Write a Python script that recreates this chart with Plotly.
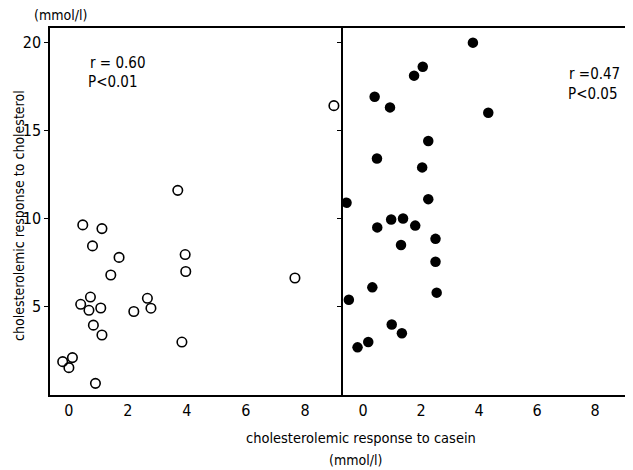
import plotly.graph_objects as go

# Left panel (open circles)
casein_left = [0.47, 1.12, 3.69, 8.98, 0.80, 1.70, 1.42, 3.94, 3.96, 7.66, 0.73, 0.40,
               0.68, 1.08, 2.20, 2.66, 2.78, 0.83, 1.12, 3.83, -0.21, 0.12, 0.00, 0.90]
chol_left = [9.64, 9.43, 11.6, 16.4, 8.45, 7.8, 6.8, 7.96, 7.0, 6.63, 5.55, 5.14,
             4.8, 4.93, 4.73, 5.48, 4.92, 3.96, 3.4, 3.0, 1.89, 2.12, 1.55, 0.66]

# Right panel (filled circles)
casein_right = [3.79, 2.06, 1.76, 0.40, 0.93, 4.32, 2.25, 0.48, 2.04, -0.57, 2.25, 0.49,
                0.97, 1.38, 1.80, 2.50, 1.31, 2.50, 0.32, -0.49, 2.54, 0.99, 1.34, 0.18, -0.19]
chol_right = [19.97, 18.6, 18.1, 16.9, 16.3, 16.0, 14.4, 13.4, 12.9, 10.9, 11.1, 9.5,
              9.95, 10.0, 9.6, 8.85, 8.5, 7.55, 6.1, 5.4, 5.8, 4.0, 3.5, 3.0, 2.7]

x_ticks = [0, 2, 4, 6, 8]
y_ticks = [5, 10, 15, 20]

FONT = "DejaVu Sans Condensed, Liberation Sans Narrow, sans-serif"

fig = go.Figure()
fig.add_trace(go.Scatter(
    x=casein_left, y=chol_left, mode="markers", xaxis="x", yaxis="y",
    marker=dict(symbol="circle-open", size=9.5, color="black", line=dict(width=1.6)),
    showlegend=False))
fig.add_trace(go.Scatter(
    x=casein_right, y=chol_right, mode="markers", xaxis="x2", yaxis="y2",
    marker=dict(symbol="circle", size=10.5, color="black"),
    showlegend=False))

def ax(**kw):
    d = dict(showline=True, linecolor="black", linewidth=1.5,
             showgrid=False, zeroline=False,
             tickfont=dict(size=16, color="black", family=FONT))
    d.update(kw)
    return d

fig.update_layout(
    width=633, height=470,
    margin=dict(l=42, r=13, t=20, b=83),
    paper_bgcolor="white", plot_bgcolor="white",
    font=dict(family=FONT, color="black", size=14),
    xaxis=ax(domain=[0, 0.507], range=[-0.64, 9.29], tickvals=x_ticks, ticks="",
             anchor="y", mirror=True),
    xaxis2=ax(domain=[0.507, 1], range=[-0.69, 9.14], tickvals=x_ticks, ticks="",
              anchor="y2", mirror=True),
    yaxis=ax(domain=[0, 1], range=[0, 20.8], tickvals=y_ticks, ticks="outside",
             ticklen=4, tickwidth=1.2, tickcolor="black", anchor="x", mirror=False),
    yaxis2=ax(domain=[0, 1], range=[0, 20.8], tickvals=y_ticks, ticks="outside",
              ticklen=4, tickwidth=1.2, tickcolor="black", showticklabels=False,
              anchor="x2", mirror=True),
)

ann = [
    dict(text="r = 0.60", x=0.64, y=18.8, xref="x", yref="y", xanchor="left", yanchor="middle", size=15),
    dict(text="P<0.01", x=0.58, y=17.75, xref="x", yref="y", xanchor="left", yanchor="middle", size=15),
    dict(text="r =0.47", x=7.03, y=18.2, xref="x2", yref="y2", xanchor="left", yanchor="middle", size=15),
    dict(text="P<0.05", x=7.0, y=17.05, xref="x2", yref="y2", xanchor="left", yanchor="middle", size=15),
    dict(text="(mmol/l)", x=0.019, y=1.035, xref="paper", yref="paper", xanchor="center", yanchor="middle", size=14),
    dict(text="cholesterolemic response to cholesterol", x=-0.054, y=0.49, xref="paper", yref="paper",
         xanchor="center", yanchor="middle", textangle=-90, size=14),
    dict(text="cholesterolemic response to casein", x=0.538, y=-0.117, xref="paper", yref="paper",
         xanchor="center", yanchor="middle", size=14.5),
    dict(text="(mmol/l)", x=0.528, y=-0.177, xref="paper", yref="paper", xanchor="center", yanchor="middle", size=14),
]
for a in ann:
    s = a.pop("size")
    a["showarrow"] = False
    a["font"] = dict(size=s, family=FONT, color="black")
fig.update_layout(annotations=ann)

fig.write_html("out.html")
